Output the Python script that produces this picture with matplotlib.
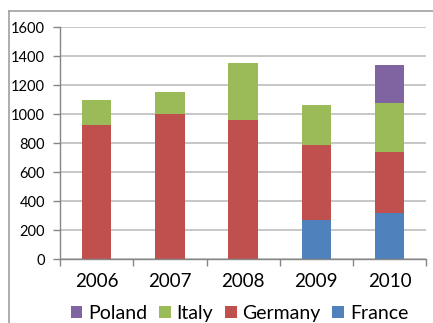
import matplotlib.pyplot as plt
from matplotlib.lines import Line2D
import numpy as np

plt.rcParams['font.family'] = ['Lato', 'DejaVu Sans']

years = ['2006', '2007', '2008', '2009', '2010']
france = [0, 0, 0, 270, 320]
germany = [925, 1000, 960, 520, 420]
italy = [170, 150, 390, 275, 335]
poland = [0, 0, 0, 0, 265]

series = [
    ('France', france, '#4F81BD'),
    ('Germany', germany, '#C0504D'),
    ('Italy', italy, '#9BBB59'),
    ('Poland', poland, '#8064A2'),
]

fig = plt.figure(figsize=(4.33, 3.23), dpi=100)
ax = fig.add_axes([0.139, 0.198, 0.845, 0.718])

x = np.arange(len(years))
bottom = np.zeros(len(years))
handles = []
for name, vals, color in series:
    b = ax.bar(x, vals, 0.4, bottom=bottom, color=color, label=name, zorder=2)
    handles.append(b)
    bottom += np.array(vals)

ax.set_ylim(0, 1600)
ax.set_xlim(-0.5, len(years) - 0.5)
ax.set_yticks(range(0, 1601, 200))
ax.yaxis.grid(True, color='#BEBEBE', linewidth=1.2, zorder=0)
ax.set_axisbelow(True)

ax.set_xticks(x)
ax.set_xticklabels(years)
ax.set_xticks(np.arange(-0.5, len(years)), minor=True)
ax.tick_params(axis='x', which='major', length=0, pad=10, labelsize=13.5)
ax.tick_params(axis='x', which='minor', length=5, color='#868686', width=1)
ax.tick_params(axis='y', length=5, color='#868686', width=1, labelsize=10.5, pad=6)

for side in ['top', 'right']:
    ax.spines[side].set_visible(False)
for side in ['left', 'bottom']:
    ax.spines[side].set_color('#868686')
    ax.spines[side].set_linewidth(1)

ax.legend(handles[::-1], [s[0] for s in series][::-1], loc='center',
          bbox_to_anchor=(0.49, -0.235), ncol=4, frameon=False, fontsize=14,
          handlelength=0.6, handleheight=0.6, handletextpad=0.3,
          columnspacing=0.6, borderpad=0)

# outer chart border
fig.add_artist(Line2D([0.021, 0.021], [0.966, 0.0], color='#A0A0A0', linewidth=1.2))
fig.add_artist(Line2D([0.021, 1.0], [0.966, 0.966], color='#A0A0A0', linewidth=1.2))

fig.savefig('out.png', dpi=100)
